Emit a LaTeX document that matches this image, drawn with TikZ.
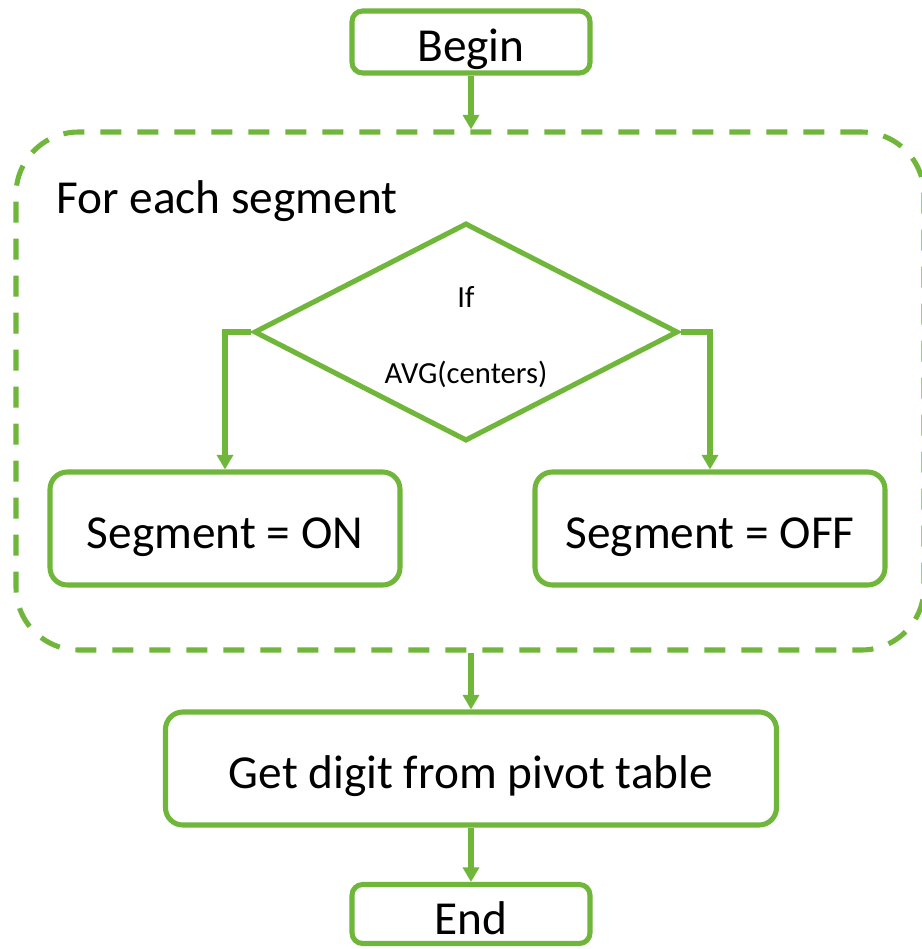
\documentclass[tikz,border=0pt]{standalone}
\usepackage{fontspec}
\setmainfont{Carlito}
\usetikzlibrary{shapes.geometric,arrows.meta}
\definecolor{flowgreen}{RGB}{112,182,58}
\tikzset{
  flowline/.style={draw=flowgreen, line width=3.8pt},
  stepbox/.style={flowline, rectangle, rounded corners=13pt, inner sep=0pt,
    text height=30pt, text depth=0pt,
    font=\fontsize{35.5pt}{42pt}\selectfont},
  flowarrow/.style={flowline, -{Triangle[width=12pt,length=11pt]}},
  decision/.style={flowline, diamond, inner sep=0pt},
  smalltext/.style={inner sep=0pt, font=\fontsize{23pt}{28pt}\selectfont},
  bigtext/.style={inner sep=0pt, font=\fontsize{35.5pt}{42pt}\selectfont},
}
\begin{document}
\begin{tikzpicture}[x=0.75pt, y=-0.75pt]
  \useasboundingbox (0,0) rectangle (921,949);

  % loop frame
  \node[flowline, dashed, dash pattern=on 15.75pt off 12pt, rectangle,
        rounded corners=47pt, minimum width=681pt, minimum height=388.5pt,
        inner sep=0pt] (loop) at (470,391) {};
  \node[bigtext, anchor=base west] (looplabel) at (56,213) {For each segment};

  % steps
  \node[stepbox, rounded corners=8pt, minimum width=178.5pt, minimum height=46.5pt]
    (begin) at (471,42) {Begin};
  \node[decision, minimum width=318pt, minimum height=163.5pt] (cond) at (466,332) {};
  \node[smalltext, anchor=base] (condif) at (466,307) {If};
  \node[smalltext, anchor=base] (condavg) at (466,383) {AVG(centers)};
  \node[stepbox, minimum width=262.5pt, minimum height=84.75pt] (on) at (225,528.5) {Segment = ON};
  \node[stepbox, minimum width=262.5pt, minimum height=84.75pt] (off) at (710,528.5) {Segment = OFF};
  \node[stepbox, minimum width=458.25pt, minimum height=84.75pt] (digit) at (471,768.5) {Get digit from pivot table};
  \node[stepbox, rounded corners=8pt, minimum width=178.5pt, minimum height=44.25pt]
    (end) at (471,914) {End};

  % connectors
  \draw[flowarrow] (begin.south) -- (begin.south |- loop.north);
  \draw[flowarrow] (cond.west) -| (on.north);
  \draw[flowarrow] (cond.east) -| (off.north);
  \draw[flowarrow] (digit.north |- loop.south) -- (digit.north);
  \draw[flowarrow] (digit.south) -- (end.north);
\end{tikzpicture}
\end{document}
